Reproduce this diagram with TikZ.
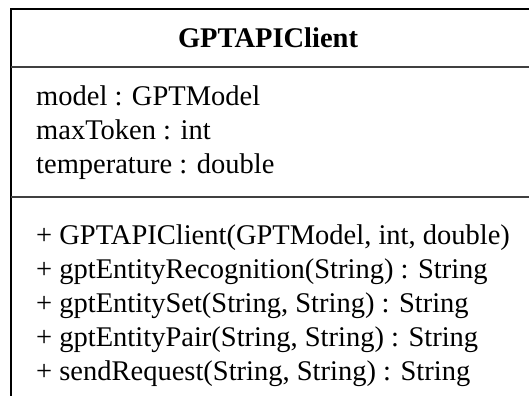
\documentclass[tikz,border=0pt]{standalone}
\usepackage{fontspec}
\setmainfont{Liberation Serif}
\begin{document}
\begin{tikzpicture}[x=1pt,y=-1pt,
  frame/.style={line width=1.3pt,black},
  sep/.style={line width=1.3pt,black!75},
  title/.style={anchor=base,inner sep=0pt,font=\fontsize{28.5}{32}\selectfont\bfseries},
  member/.style={anchor=base west,inner sep=0pt,font=\fontsize{28.5}{32}\selectfont}]
\useasboundingbox (0,0) rectangle (529,396);
% class frame: open to the right and bottom
\draw[frame] (529,9) -- (11,9) -- (11,396);
\draw[sep] (11,67) -- (529,67);
\draw[sep] (11,197) -- (529,197);
% class name
\node[title] (name) at (268,48) {GPTAPIClient};
% attributes
\node[member] (a1) at (36,105) {model : GPTModel};
\node[member] (a2) at (36,139) {maxToken : int};
\node[member] (a3) at (36,173) {temperature : double};
% operations
\node[member] (m1) at (36,244) {+ GPTAPIClient(GPTModel, int, double)};
\node[member] (m2) at (36,278) {+ gptEntityRecognition(String) : String};
\node[member] (m3) at (36,312) {+ gptEntitySet(String, String) : String};
\node[member] (m4) at (36,346) {+ gptEntityPair(String, String) : String};
\node[member] (m5) at (36,380) {+ sendRequest(String, String) : String};
\end{tikzpicture}
\end{document}
